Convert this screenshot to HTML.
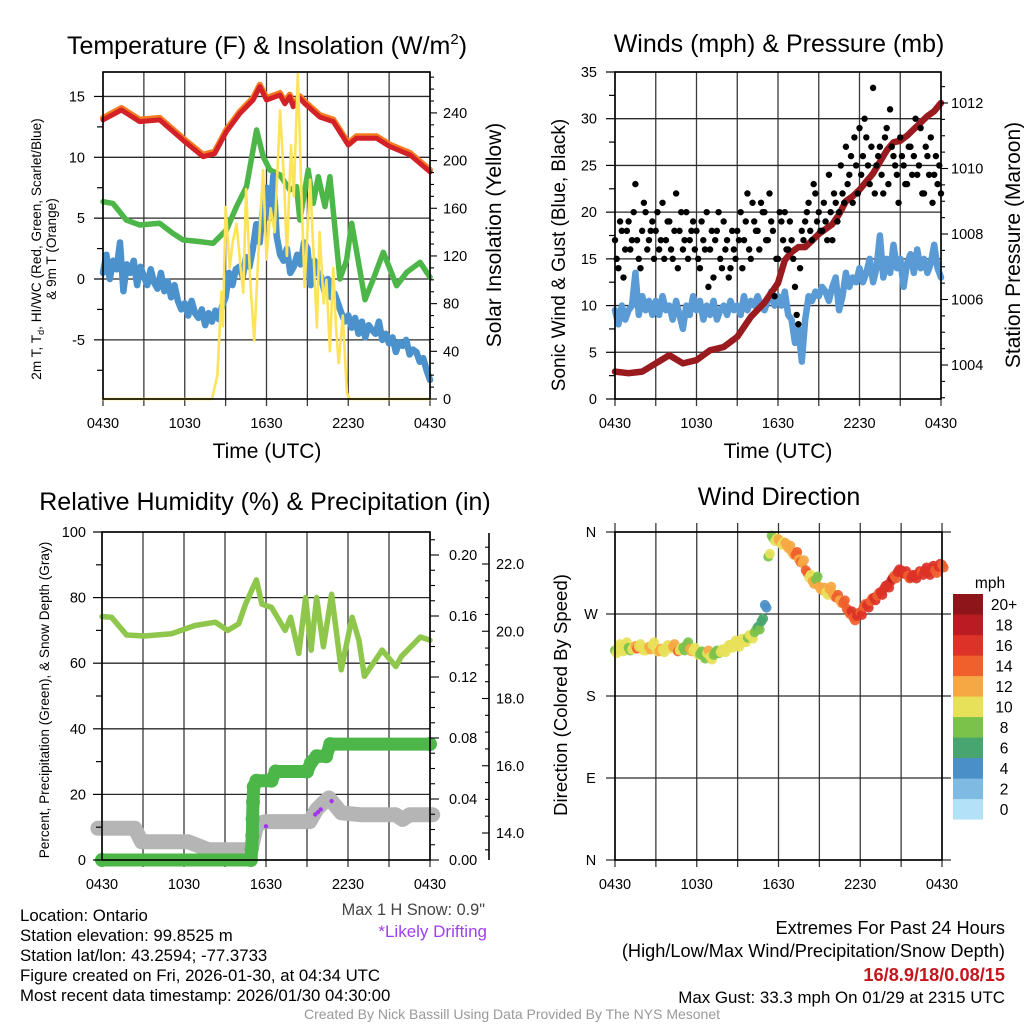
<!DOCTYPE html>
<html><head><meta charset="utf-8"><title>NYS Mesonet Meteogram - Ontario</title>
<style>
html,body{margin:0;padding:0;background:#fff;}
svg{display:block;font-family:"Liberation Sans",Arial,sans-serif;}
</style></head>
<body>
<svg id="chart" width="1024" height="1024" viewBox="0 0 1024 1024" xmlns="http://www.w3.org/2000/svg">
<rect x="0" y="0" width="1024" height="1024" fill="#fff"/>
<g id="layer-grid"></g>
<g id="layer-data"></g>
<g id="layer-axes"></g>

<!-- Titles -->
<text x="267" y="54" font-size="25" text-anchor="middle">Temperature (F) &amp; Insolation (W/m<tspan font-size="15" dy="-10">2</tspan><tspan dy="10">)</tspan></text>
<text x="779" y="52" font-size="25" text-anchor="middle">Winds (mph) &amp; Pressure (mb)</text>
<text x="265" y="510" font-size="25" text-anchor="middle">Relative Humidity (%) &amp; Precipitation (in)</text>
<text x="779" y="505" font-size="25" text-anchor="middle">Wind Direction</text>

<!-- Axis titles -->
<text x="267" y="458" font-size="21" text-anchor="middle">Time (UTC)</text>
<text x="778" y="458" font-size="21" text-anchor="middle">Time (UTC)</text>
<text transform="translate(41,249) rotate(-90)" font-size="13.6" text-anchor="middle">2m T, T<tspan font-size="9" dy="3">d</tspan><tspan dy="-3">, HI/WC (Red, Green, Scarlet/Blue)</tspan></text>
<text transform="translate(56,249) rotate(-90)" font-size="13.6" text-anchor="middle">&amp; 9m T (Orange)</text>
<text transform="translate(501,235) rotate(-90)" font-size="21" text-anchor="middle">Solar Insolation (Yellow)</text>
<text transform="translate(565,255) rotate(-90)" font-size="19" text-anchor="middle">Sonic Wind &amp; Gust (Blue, Black)</text>
<text transform="translate(1020,245) rotate(-90)" font-size="21" text-anchor="middle">Station Pressure (Maroon)</text>
<text transform="translate(49,700) rotate(-90)" font-size="13.6" text-anchor="middle">Percent, Precipitation (Green), &amp; Snow Depth (Gray)</text>
<text transform="translate(567,695) rotate(-90)" font-size="18.6" text-anchor="middle">Direction (Colored By Speed)</text>

<!-- Footer text -->
<g font-size="16.8">
<text x="20" y="921">Location: Ontario</text>
<text x="20" y="941">Station elevation: 99.8525 m</text>
<text x="20" y="961">Station lat/lon: 43.2594; -77.3733</text>
<text x="20" y="981">Figure created on Fri, 2026-01-30, at 04:34 UTC</text>
<text x="20" y="1001">Most recent data timestamp: 2026/01/30 04:30:00</text>
</g>
<text x="485" y="915" font-size="16.3" fill="#444" text-anchor="end">Max 1 H Snow: 0.9"</text>
<text x="487" y="937" font-size="17" fill="#a040f0" text-anchor="end">*Likely Drifting</text>
<g font-size="18.2" text-anchor="end">
<text x="1005" y="934">Extremes For Past 24 Hours</text>
<text x="1005" y="957">(High/Low/Max Wind/Precipitation/Snow Depth)</text>
<text x="1005" y="981" font-weight="bold" fill="#c4161c">16/8.9/18/0.08/15</text>
<text x="1005" y="1003" font-size="16.9">Max Gust: 33.3 mph On 01/29 at 2315 UTC</text>
</g>
<text x="512" y="1019" font-size="14" fill="#999" text-anchor="middle">Created By Nick Bassill Using Data Provided By The NYS Mesonet</text>
<text x="990" y="588" font-size="15.5" text-anchor="middle">mph</text>
</svg>

<script>
// ---------- Panel 1 data ----------
const tempT = [0,1.35,2.69,4.16,5.88,7.35,8.2,9.06,10.04,11.02,11.51,12.0,12.98,13.35,13.7,13.96,14.45,14.82,15.92,16.9,18.0,18.6,20.08,21.06,22.53,24];
const tempV = [13.07,13.89,12.93,13.07,11.4,10.05,10.3,12.1,13.6,14.71,15.8,14.71,15.12,14.4,14.98,14.16,14.85,14.4,13.3,12.93,11.0,11.56,11.56,10.88,10.2,8.8];
const dewT = [0,0.73,1.71,2.69,4.16,5.14,5.88,7.1,8.08,9.06,9.8,10.53,11.27,11.76,12.25,12.98,13.72,14.2,14.45,15.06,15.43,15.8,16.29,16.65,17.39,17.88,18.25,19.23,19.84,20.57,21.55,22.29,23.27,24];
const dewV = [6.35,6.21,4.85,4.44,4.58,3.75,3.21,3.07,2.93,4.03,5.95,7.59,12.24,10.05,8.96,8.55,7.32,7.59,4.85,8.96,6.21,8.41,5.95,8.41,0.0,1.56,4.58,-1.7,0.0,2.19,-0.55,0.55,1.37,0.14];
const wcV = [0.5,2.0,0.0,1.5, 0.8,3.0,-1.0,1.2, 0.5,1.5,-0.5,1.0, 0.2,-0.5,0.8,-0.3, -0.8,0.5,-1.0,-0.2, -1.5,-0.5,-1.8,-2.5, -2.0,-3.0,-1.8,-2.8, -3.2,-2.5,-3.8,-2.8, -3.5,-2.6,-3.3,-2.2, -1.5,0.5,-0.5,0.8, 1.0,0.2,1.8,1.0, 2.5,4.5,3.0,6.0, 7.5,5.0,8.5,3.5, 2.0,1.5,2.5,0.5, 1.0,2.0,1.2,3.0, 2.5,-0.5,1.5,0.5, 0.2,-1.0,0.0,-1.5, -1.2,-2.0,-2.8,-3.5, -3.0,-4.0,-3.2,-4.5, -3.5,-4.8,-3.8,-4.2, -4.5,-3.5,-5.0,-4.5, -5.3,-4.8,-6.0,-5.2, -5.5,-5.0,-6.2,-5.8, -6.0,-6.8,-6.5,-7.5, -8.3];
const solarT = [0,8.0,8.4,8.7,8.8,9.0,9.3,9.5,9.8,10.1,10.3,10.5,10.8,11.1,11.4,11.75,12.0,12.3,12.6,13.0,13.3,13.5,13.8,14.0,14.3,14.6,14.8,15.2,15.5,15.7,15.9,16.2,16.4,16.65,16.9,17.1,17.3,17.6,17.9,18.1,24];
const solarV = [0,0,20,90,61,161,110,130,147,110,89,176,100,49,120,192,117,160,140,242,180,120,213,170,273,160,94,184,110,60,140,80,100,40,110,60,30,70,5,0,0];
const p1Ticks = [-5,0,5,10,15];
const solarTicks = [0,40,80,120,160,200,240];
const timeLabels = ["0430","1030","1630","2230","0430"];

// ---------- Panel 2 data ----------
const windV = [9.5,8.0,10.0,8.5, 9.5,10.0,13.5,9.0, 11.0,9.5,10.5,9.0, 10.5,9.0,11.0,9.5, 10.0,8.5,10.5,9.0, 7.5,10.0,9.0,11.0, 9.5,10.5,8.5,10.0, 9.0,10.5,8.5,9.5, 10.0,9.0,10.5,9.5, 10.0,9.0,11.0,9.5, 10.5,10.0,11.0,10.0, 9.5,10.5,11.5,10.0, 11.0,10.0,11.5,9.0, 8.5,6.0,7.5,4.0, 8.5,11.0,10.5,11.5, 11.0,12.0,11.5,10.5, 12.0,13.0,9.5,11.0, 13.5,12.0,13.0,12.5, 14.0,12.5,13.5,15.0, 12.5,14.0,17.5,13.0, 15.0,13.5,16.5,14.0, 15.0,12.0,14.5,15.5, 13.5,16.0,14.0,15.0, 13.5,14.5,16.5,14.0, 13.0];
const gustV = [17,14,18,16,19,17,23,15,18,20,17,19, 18,16,21,17,19,15,22,18,16,20,17,19, 18,14,17,20,16,13,18,15,19,17,14,16, 18,20,17,22,15,19,18,21,20,17,19,11, 15,19,20,16,17,12,8,18,19,21,17,22, 20,18,19,24,17,21,20,22,27,24,21,25, 29,26,28,23,33.3,25,27,22,29,31,26,24, 28,25,23,27,26,24,29,22,26,28,24,23, 22];
const gustV2 = [15,19,13,18,16,20,17,14,21,16,18,15, 20,17,15,19,16,18,14,20,17,15,18,16, 15,19,16,12,18,17,20,14,16,13,18,15, 17,14,19,16,21,18,16,20,17,22,18,15, 20,17,16,19,15,9,14,17,20,18,23,19, 18,21,17,20,22,19,25,21,23,26,28,22, 24,30,25,27,22,26,24,28,23,27,25,21, 26,23,27,24,30,25,22,27,24,21,26,25, 18];
const presT = [0,1,2,3,4,5,6,7,8,9,10,11,12,12.5,13,13.5,14,14.5,15,15.5,16,16.5,17,17.5,18,18.5,19,19.5,20,20.5,21,21.5,22,22.5,23,23.5,24];
const presV = [1003.8,1003.75,1003.8,1004.05,1004.3,1004.05,1004.15,1004.45,1004.55,1004.86,1005.47,1005.9,1006.5,1007.2,1007.45,1007.6,1007.6,1007.8,1008.0,1008.15,1008.3,1008.6,1009.0,1009.15,1009.35,1009.6,1009.85,1010.2,1010.55,1010.8,1010.85,1011.0,1011.2,1011.4,1011.6,1011.75,1012.0];
const windTicks = [0,5,10,15,20,25,30,35];
const presTicks = [1004,1006,1008,1010,1012];

// ---------- Panel 3 data ----------
const rhT = [0,0.7,1.8,3.1,5.1,6.8,8.3,9.2,10.0,10.5,11.3,11.7,12.4,13.4,13.8,14.4,14.9,15.3,15.7,16.2,16.8,17.5,18.3,18.8,19.2,20.5,21.5,21.9,23.3,24];
const rhV = [74.2,74,68.6,68.3,69,71.5,72.5,70,72,78,85.4,78,77,70,74,63,80,64,80,65,81,58,74,67,56,64,59,62,68,67];
const precT = [0,10.9,10.95,11.0,11.02,11.05,11.1,11.3,12.4,12.7,15.0,15.3,15.7,16.4,16.7,24];
const precV = [0,0,0.007,0.016,0.027,0.038,0.048,0.052,0.052,0.058,0.058,0.064,0.068,0.068,0.076,0.076];
const snowT = [-0.3,2.4,2.9,6.3,7.8,10.9,11.3,11.6,12.0,15.2,15.7,16.2,16.6,17.0,17.5,19.0,21.5,22.0,22.5,24.2];
const snowV = [14.14,14.14,13.74,13.74,13.5,13.5,14.2,14.3,14.34,14.34,14.7,14.9,15.04,14.85,14.6,14.54,14.54,14.4,14.54,14.54];
const driftT = [12.0,15.6,15.8,16.0,16.8];
const driftV = [14.2,14.55,14.62,14.7,14.95];
const rhTicks = [0,20,40,60,80,100];
const precTicks = ["0.00","0.04","0.08","0.12","0.16","0.20"];
const snowTicks = ["14.0","16.0","18.0","20.0","22.0"];

// ---------- Panel 4 data ----------
const dirV = [230,234,232,236,233,231,235,234, 233,230,234,236,232,229,231,233, 235,234,232,230,233,236,232,230, 228,226,224,227,223,225,230,228, 231,233,236,238,237,240,242,244, 246,250,256,262,280,333,356,350, 352,346,348,342,338,335,330,326, 318,310,306,308,300,296,294,297, 292,288,285,282,276,270,266,268, 272,278,280,284,288,290,294,298, 302,306,312,316,318,314,312,310, 312,314,316,318,316,320,318,322, 324];
const dirS = [9,10,11,10,9,11,13,10, 11,10,12,11,10,12,11,10, 11,12,13,10,9,8,12,11, 10,9,8,11,10,9,8,10, 11,10,10,11,10,11,10,9, 10,9,7,6,4,9,8,11, 12,11,13,12,12,14,13,12, 14,10,12,8,12,13,11,12, 13,14,12,15,14,15,14,16, 15,15,17,14,16,15,16,17, 16,17,15,16,16,17,14,16, 17,16,15,16,17,16,15,16, 14];
const dirLabels = ["N","E","S","W","N"];
const cbLabels = ["0","2","4","6","8","10","12","14","16","18","20+"];
const cbColors = ["#b3e1f7","#7fbae3","#4a8fc7","#48a56f","#7bc24b","#e7e159","#f6a844","#ef602c","#dc3227","#bb1c24","#8e1519"];

// ---------- axis functions ----------
const p1x = t => 103 + t*327/24, p1y = v => 279 - v*12.17, p1s = s => 399 - s*1.192;
const p2x = t => 615 + t*326/24, p2y = v => 399 - v*9.343, p2p = p => 365 - (p-1004)*32.75;
const p3x = t => 102 + t*328/24, p3y = v => 860 - v*3.28, p3p = p => 860 - p*1525, p3s = s => 833 - (s-14)*33.625;
const p4x = t => 615 + t*327/24, p4y = d => 860 - d*328/360;

const NS = "http://www.w3.org/2000/svg";
const G = document.getElementById('layer-grid');
const D = document.getElementById('layer-data');
const A = document.getElementById('layer-axes');

function mk(parent, tag, attrs, nm) {
  const el = document.createElementNS(NS, tag);
  for (const k in attrs) el.setAttribute(k, attrs[k]);
  
  
  parent.appendChild(el);
  return el;
}
function txt(parent, x, y, s, size, anchor, nm, fill) {
  const el = mk(parent, 'text', {x: x, y: y, 'font-size': size, 'text-anchor': anchor, fill: fill || '#000'}, nm);
  el.textContent = s;
  return el;
}
function line(parent, x1, y1, x2, y2, stroke, w, nm) {
  return mk(parent, 'line', {x1: x1, y1: y1, x2: x2, y2: y2, stroke: stroke, 'stroke-width': w}, nm);
}
function poly(xs, ys, fx, fy, color, w, nm) {
  const pts = xs.map((t, i) => fx(t).toFixed(1) + ',' + fy(ys[i]).toFixed(1)).join(' ');
  return mk(D, 'polyline', {points: pts, fill: 'none', stroke: color, 'stroke-width': w, 'stroke-linejoin': 'round', 'stroke-linecap': 'round'}, nm);
}
const idxT = arr => arr.map((_, i) => i * 24 / (arr.length - 1));

// ---------- generic frame ----------
function frame(x0, x1, y0, y1, fx, gridYs, nm, ext) {
  const e = ext || 0;
  for (let h = 0; h <= 24; h += 3) {
    line(G, fx(h), y0 - e, fx(h), y1 + 7, '#3a3a3a', 1.3, nm + '-vgrid');
  }
  gridYs.forEach(y => line(G, x0 - e, y, x1 + e, y, '#2a2a2a', 1.3, nm + '-hgrid'));
  mk(A, 'rect', {x: x0, y: y0, width: x1 - x0, height: y1 - y0, fill: 'none', stroke: '#000', 'stroke-width': 1.6}, nm + '-frame');
  timeLabels.forEach((s, i) => txt(A, fx(i * 6), y1 + 29, s, 14.5, 'middle', nm + '-x-tick-label'));
}

// ---------- Panel 1 ----------
frame(103, 430, 72, 399, p1x, p1Ticks.map(p1y).concat([72]), 'temp-panel');
for (let v = -7.5; v <= 17; v += 2.5) {
  const major = p1Ticks.includes(v);
  line(A, 103 - (major ? 9 : 6), p1y(v), 103, p1y(v), '#000', 1.2, 'temp-y-tick');
}
p1Ticks.forEach(v => txt(A, 85, p1y(v) + 5, String(v), 14.5, 'end', 'temp-y-tick-label'));
for (let s = 0; s <= 270; s += 10) {
  const major = s % 40 === 0;
  line(A, 430, p1s(s), 430 + (major ? 7 : 4), p1s(s), '#000', 1.1, 'solar-y-tick');
}
solarTicks.forEach(s => txt(A, 443, p1s(s) + 5, String(s), 14.5, 'start', 'solar-y-tick-label'));
poly(tempT, tempV, p1x, v => p1y(v) - 2, '#f47b20', 6, 'nine-meter-temp-line');
poly(tempT, tempV, p1x, p1y, '#d42127', 5, 'two-meter-temp-line');
poly(dewT, dewV, p1x, p1y, '#4cb748', 5.5, 'dewpoint-line');
poly(idxT(wcV), wcV, p1x, p1y, '#4b92cd', 6.5, 'wind-chill-line');
poly(solarT, solarV, p1x, p1s, '#fde35a', 2.6, 'solar-insolation-line');

// ---------- Panel 2 ----------
frame(615, 941, 72, 399, p2x, windTicks.map(p2y), 'wind-panel');
for (let v = 0; v <= 35; v += 2.5) {
  const major = v % 5 === 0;
  line(A, 615 - (major ? 9 : 6), p2y(v), 615, p2y(v), '#000', 1.2, 'wind-y-tick');
}
windTicks.forEach(v => txt(A, 597, p2y(v) + 5, String(v), 14.5, 'end', 'wind-y-tick-label'));
for (let p = 1003; p <= 1013; p += 0.5) {
  if (p2p(p) < 72 || p2p(p) > 399) continue;
  const major = p % 2 === 0;
  line(A, 941, p2p(p), 941 + (major ? 7 : 4), p2p(p), '#000', 1.1, 'pressure-y-tick');
}
presTicks.forEach(p => txt(A, 951, p2p(p) + 5, String(p), 14.5, 'start', 'pressure-y-tick-label'));
poly(idxT(windV), windV, p2x, p2y, '#5b9bd5', 6.5, 'sonic-wind-line');
poly(presT, presV, p2x, p2p, '#9a1b1f', 6.5, 'pressure-line');
[gustV, gustV2].forEach((arr, k) => {
  arr.forEach((v, i) => {
    const t = (i + k * 0.5) * 24 / (arr.length - 1);
    if (t > 24) return;
    mk(D, 'circle', {cx: p2x(t), cy: p2y(v), r: 3.2, fill: '#000'}, 'gust-point');
  });
});

// ---------- Panel 3 ----------
frame(102, 430, 532, 860, p3x, rhTicks.map(p3y), 'rh-panel');
for (let v = 0; v <= 100; v += 10) {
  const major = v % 20 === 0;
  line(A, 102 - (major ? 9 : 6), p3y(v), 102, p3y(v), '#000', 1.2, 'rh-y-tick');
}
rhTicks.forEach(v => txt(A, 86, p3y(v) + 5, String(v), 14.5, 'end', 'rh-y-tick-label'));
for (let p = 0; p <= 0.215; p += 0.01) {
  const major = Math.round(p * 100) % 4 === 0;
  line(A, 430, p3p(p), 430 + (major ? 9 : 5), p3p(p), '#000', 1.1, 'precip-y-tick');
}
precTicks.forEach(s => txt(A, 449, p3p(parseFloat(s)) + 5, s, 14.5, 'start', 'precip-y-tick-label'));
line(A, 489, 533, 489, 860, '#000', 1.6, 'snow-axis-line');
for (let s = 13.5; s <= 22.8; s += 0.5) {
  const major = s % 2 === 0;
  line(A, 489, p3s(s), 489 - (major ? 7 : 4), p3s(s), '#000', 1.1, 'snow-y-tick');
}
snowTicks.forEach(s => txt(A, 496, p3s(parseFloat(s)) + 5, s, 14.5, 'start', 'snow-y-tick-label'));
poly(snowT, snowV, p3x, p3s, '#b5b5b5', 15, 'snow-depth-line');
driftT.forEach((t, i) => mk(D, 'circle', {cx: p3x(t), cy: p3s(driftV[i]), r: 2.2, fill: '#a431ef'}, 'drift-point'));
poly(precT, precV, p3x, p3p, '#4cb748', 13, 'precip-line');
precT.forEach((t, i) => mk(D, 'circle', {cx: p3x(t), cy: p3p(precV[i]), r: 7, fill: '#4cb748'}, 'precip-point'));
poly(rhT, rhV, p3x, p3y, '#8fc74c', 5.5, 'rh-line');

// ---------- Panel 4 ----------
frame(615, 942, 532, 860, p4x, [0,90,180,270,360].map(p4y), 'direction-panel', 9);
dirLabels.forEach((s, i) => txt(A, 591, p4y(i * 90) + 5, s, 14.5, 'middle', 'direction-y-tick-label'));
function binColor(v) { let b = Math.floor(v / 2); if (b > 10) b = 10; if (b < 0) b = 0; return cbColors[b]; }
dirV.forEach((d, i) => {
  const t = i * 24 / (dirV.length - 1);
  mk(D, 'circle', {cx: p4x(t), cy: p4y(d), r: 5, fill: binColor(dirS[i]), 'fill-opacity': 0.92}, 'direction-point');
  mk(D, 'circle', {cx: p4x(t + 0.12), cy: p4y(d + (i % 2 ? 3 : -3)), r: 5, fill: binColor(dirS[i] + (i % 3 === 0 ? 1 : 0)), 'fill-opacity': 0.92}, 'direction-point');
});
cbColors.forEach((c, i) => {
  const y = 594 + (10 - i) * 20.5;
  mk(A, 'rect', {x: 953, y: y, width: 30, height: 20.6, fill: c}, 'colorbar-bin');
  txt(A, 1004, y + 16, cbLabels[i], 15.5, 'middle', 'colorbar-label');
});
</script>
</body></html>
